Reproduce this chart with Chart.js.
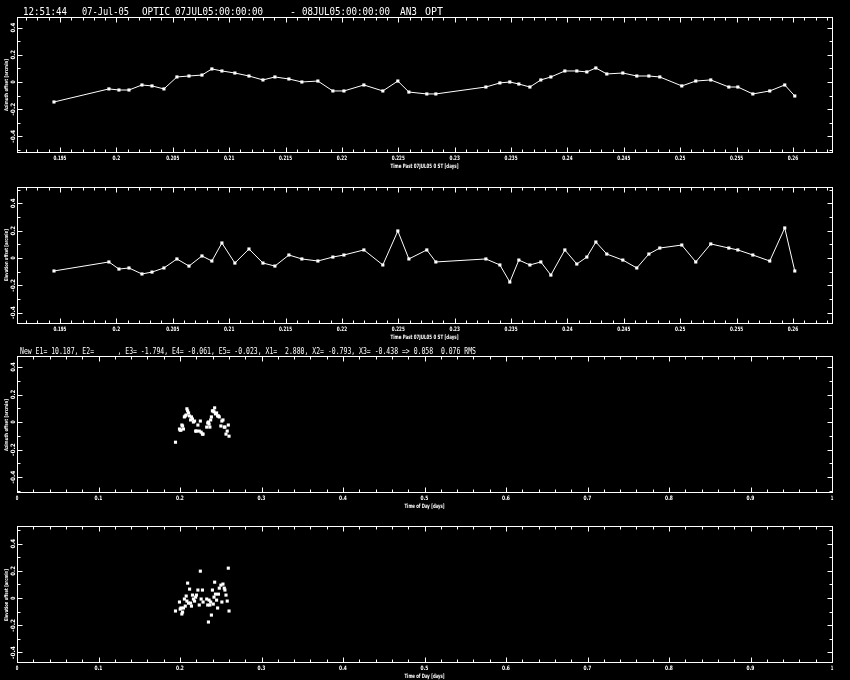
<!DOCTYPE html>
<html>
<head>
<meta charset="utf-8">
<script src="https://cdn.jsdelivr.net/npm/chart.js@4.4.0/dist/chart.umd.min.js"></script>
<style>
  body { margin: 0; background: #000; width: 850px; height: 680px; position: relative; overflow: hidden; }
  canvas { position: absolute; left: 0; }
</style>
</head>
<body>
<canvas id="p1" style="top:0px"></canvas>
<canvas id="p2" style="top:175px"></canvas>
<canvas id="p3" style="top:340px"></canvas>
<canvas id="p4" style="top:515px"></canvas>
<script>
// time of each pointing (days past 07JUL05 0 ST)
const times = [0.19447, 0.19934, 0.20023, 0.20112, 0.20227, 0.20316, 0.20422, 0.20537, 0.20644, 0.20759,
  0.20847, 0.20936, 0.21051, 0.21176, 0.21300, 0.21406, 0.21530, 0.21645, 0.21787, 0.21920,
  0.22018, 0.22195, 0.22363, 0.22496, 0.22594, 0.22753, 0.22833, 0.23277, 0.23401, 0.23489,
  0.23569, 0.23667, 0.23764, 0.23853, 0.23977, 0.24083, 0.24172, 0.24252, 0.24349, 0.24491,
  0.24615, 0.24722, 0.24819, 0.25014, 0.25138, 0.25271, 0.25431, 0.25511, 0.25644, 0.25794,
  0.25927, 0.26016]
// azimuth offsets [arcmin]
const azOffset = [-0.147, -0.051, -0.059, -0.059, -0.022, -0.029, -0.051, 0.037, 0.044, 0.051,
  0.096, 0.081, 0.066, 0.044, 0.015, 0.037, 0.022, 0.000, 0.007, -0.066,
  -0.066, -0.022, -0.066, 0.007, -0.074, -0.088, -0.088, -0.037, -0.007, 0.000,
  -0.015, -0.037, 0.015, 0.037, 0.081, 0.081, 0.074, 0.103, 0.059, 0.066,
  0.044, 0.044, 0.037, -0.029, 0.007, 0.015, -0.037, -0.037, -0.088, -0.066,
  -0.022, -0.103]
// elevation offsets [arcmin]
const elOffset = [-0.095, -0.029, -0.081, -0.073, -0.117, -0.103, -0.073, -0.007, -0.059, 0.015,
  -0.022, 0.110, -0.037, 0.066, -0.037, -0.059, 0.022, -0.007, -0.022, 0.007,
  0.022, 0.059, -0.051, 0.198, -0.007, 0.059, -0.029, -0.007, -0.051, -0.176,
  -0.015, -0.051, -0.029, -0.125, 0.059, -0.044, 0.007, 0.117, 0.029, -0.015,
  -0.073, 0.029, 0.073, 0.095, -0.029, 0.103, 0.073, 0.059, 0.022, -0.022,
  0.220, -0.095]

const pastTicks = [0.195, 0.2, 0.205, 0.21, 0.215, 0.22, 0.225, 0.23, 0.235, 0.24, 0.245, 0.25, 0.255, 0.26]
const pastTickLabels = ['0.195', '0.2', '0.205', '0.21', '0.215', '0.22', '0.225', '0.23', '0.235', '0.24', '0.245', '0.25', '0.255', '0.26']
const dayTicks = [0, 0.1, 0.2, 0.3, 0.4, 0.5, 0.6, 0.7, 0.8, 0.9, 1]
const dayTickLabels = ['0', '0.1', '0.2', '0.3', '0.4', '0.5', '0.6', '0.7', '0.8', '0.9', '1']
const offTicks = [-0.4, -0.2, 0, 0.2, 0.4]
const offTickLabels = ['-0.4', '-0.2', '0', '0.2', '0.4']

const header1 = [['12:51:44', 23, 44], ['07-Jul-05', 82, 47], ['OPTIC', 142, 28], ['07JUL05:00:00:00', 175, 88],
  ['-', 290, 6], ['08JUL05:00:00:00', 302, 88], ['AN3', 400, 17], ['OPT', 425, 18]]
const header3 = 'New E1= 10.187, E2=      , E3= -1.794, E4= -0.061, E5= -0.023, X1=  2.880, X2= -0.793, X3= -0.438 => 0.058  0.076 RMS'

const W = 850

function frame(chart, o) {
  const ctx = chart.ctx
  const a = chart.chartArea
  const x = chart.scales.x, y = chart.scales.y
  ctx.save()
  ctx.strokeStyle = '#fff'
  ctx.fillStyle = '#fff'
  ctx.lineWidth = 1
  const L = Math.round(a.left) + 0.5, R = Math.round(a.right) + 0.5
  const T = Math.round(a.top) + 0.5, B = Math.round(a.bottom) + 0.5
  ctx.strokeRect(L, T, R - L, B - T)
  ctx.beginPath()
  // x ticks, top and bottom, inward
  for (let i = Math.ceil(x.min / o.xMinor - 1e-6); i * o.xMinor <= x.max + 1e-9; i++) {
    const major = i % o.xRatio === 0
    const len = major ? 5 : 3
    const px = Math.round(x.getPixelForValue(i * o.xMinor)) + 0.5
    ctx.moveTo(px, B); ctx.lineTo(px, B - len)
    ctx.moveTo(px, T); ctx.lineTo(px, T + len)
  }
  for (let i = Math.ceil(y.min / o.yMinor - 1e-6); i * o.yMinor <= y.max + 1e-9; i++) {
    const major = i % o.yRatio === 0
    const len = major ? 5 : 3
    const py = Math.round(y.getPixelForValue(i * o.yMinor)) + 0.5
    ctx.moveTo(L, py); ctx.lineTo(L + len, py)
    ctx.moveTo(R, py); ctx.lineTo(R - len, py)
  }
  ctx.stroke()

  // x tick labels
  ctx.font = 'bold 6px "DejaVu Sans"'
  ctx.textAlign = 'center'
  ctx.textBaseline = 'middle'
  o.xTicks.forEach((v, i) => {
    const s = o.xLabels[i]
    ctx.fillText(s, x.getPixelForValue(v), B + 6, s.length * 2.6)
  })
  // x title
  ctx.fillText(o.xTitle, (a.left + a.right) / 2, B + 14, o.xTitleW)

  // y tick labels, rotated
  offTicks.forEach((v, i) => {
    const s = offTickLabels[i]
    ctx.save()
    ctx.translate(13.5, y.getPixelForValue(v))
    ctx.rotate(-Math.PI / 2)
    ctx.font = 'bold 6px "DejaVu Sans"'
    ctx.fillText(s, 0, 0, s.length * 3.2)
    ctx.restore()
  })
  // y title
  ctx.save()
  ctx.translate(6.5, y.getPixelForValue(0) + o.yTitleShift)
  ctx.rotate(-Math.PI / 2)
  ctx.font = 'bold 5px "DejaVu Sans"'
  ctx.fillText(o.yTitle, 0, 0, 52)
  ctx.restore()

  // header line above the frame
  if (o.header) o.header(ctx, a)
  ctx.restore()
}

function makePanel(id, h, pad, xr, yr, data, line, o) {
  const el = document.getElementById(id)
  el.width = W
  el.height = h
  return new Chart(el, {
    type: 'line',
    data: {
      datasets: [{
        data: data,
        showLine: line,
        borderColor: '#fff',
        backgroundColor: '#fff',
        borderWidth: 1,
        pointStyle: 'rect',
        pointRadius: 2.2,
        pointBorderWidth: 0,
        tension: 0
      }]
    },
    options: {
      responsive: false,
      animation: false,
      layout: { padding: pad },
      plugins: { legend: { display: false }, tooltip: { enabled: false } },
      scales: {
        x: { type: 'linear', display: false, min: xr[0], max: xr[1] },
        y: { type: 'linear', display: false, min: yr[0], max: yr[1] }
      }
    },
    plugins: [{ id: 'frame', afterDraw: c => frame(c, o) }]
  })
}

const azPts = times.map((t, i) => ({ x: t, y: azOffset[i] }))
const elPts = times.map((t, i) => ({ x: t, y: elOffset[i] }))

const pastAxis = { xMinor: 0.001, xRatio: 5, xTicks: pastTicks, xLabels: pastTickLabels,
  xTitle: 'Time Past 07JUL05 0 ST [days]', xTitleW: 68, yMinor: 0.1, yRatio: 2 }
const dayAxis = { xMinor: 0.02, xRatio: 5, xTicks: dayTicks, xLabels: dayTickLabels,
  xTitle: 'Time of Day [days]', xTitleW: 40, yMinor: 0.1, yRatio: 2 }

makePanel('p1', 175, { left: 17, right: 18, top: 17, bottom: 23 }, [0.19119, 0.26346], [-0.515, 0.478], azPts, true,
  Object.assign({}, pastAxis, { yTitle: 'Azimuth offset [arcmin]', yTitleShift: 3,
    header: ctx => {
      ctx.font = '10px "DejaVu Sans Mono"'
      ctx.textAlign = 'left'
      ctx.textBaseline = 'alphabetic'
      header1.forEach(h => ctx.fillText(h[0], h[1], 15, h[2]))
    } }))
makePanel('p2', 165, { left: 17, right: 18, top: 12, bottom: 17 }, [0.19119, 0.26346], [-0.476, 0.52], elPts, true,
  Object.assign({}, pastAxis, { yTitle: 'Elevation offset [arcmin]', yTitleShift: -3 }))
makePanel('p3', 175, { left: 17, right: 18, top: 16, bottom: 23 }, [0, 1], [-0.509, 0.48], azPts, false,
  Object.assign({}, dayAxis, { yTitle: 'Azimuth offset [arcmin]', yTitleShift: 3,
    header: ctx => {
      ctx.font = '9px "DejaVu Sans Mono"'
      ctx.textAlign = 'left'
      ctx.textBaseline = 'alphabetic'
      ctx.fillText(header3, 20, 14, 456)
    } }))
makePanel('p4', 165, { left: 17, right: 18, top: 11, bottom: 18 }, [0, 1], [-0.47, 0.53], elPts, false,
  Object.assign({}, dayAxis, { yTitle: 'Elevation offset [arcmin]', yTitleShift: -3 }))
</script>
</body>
</html>
